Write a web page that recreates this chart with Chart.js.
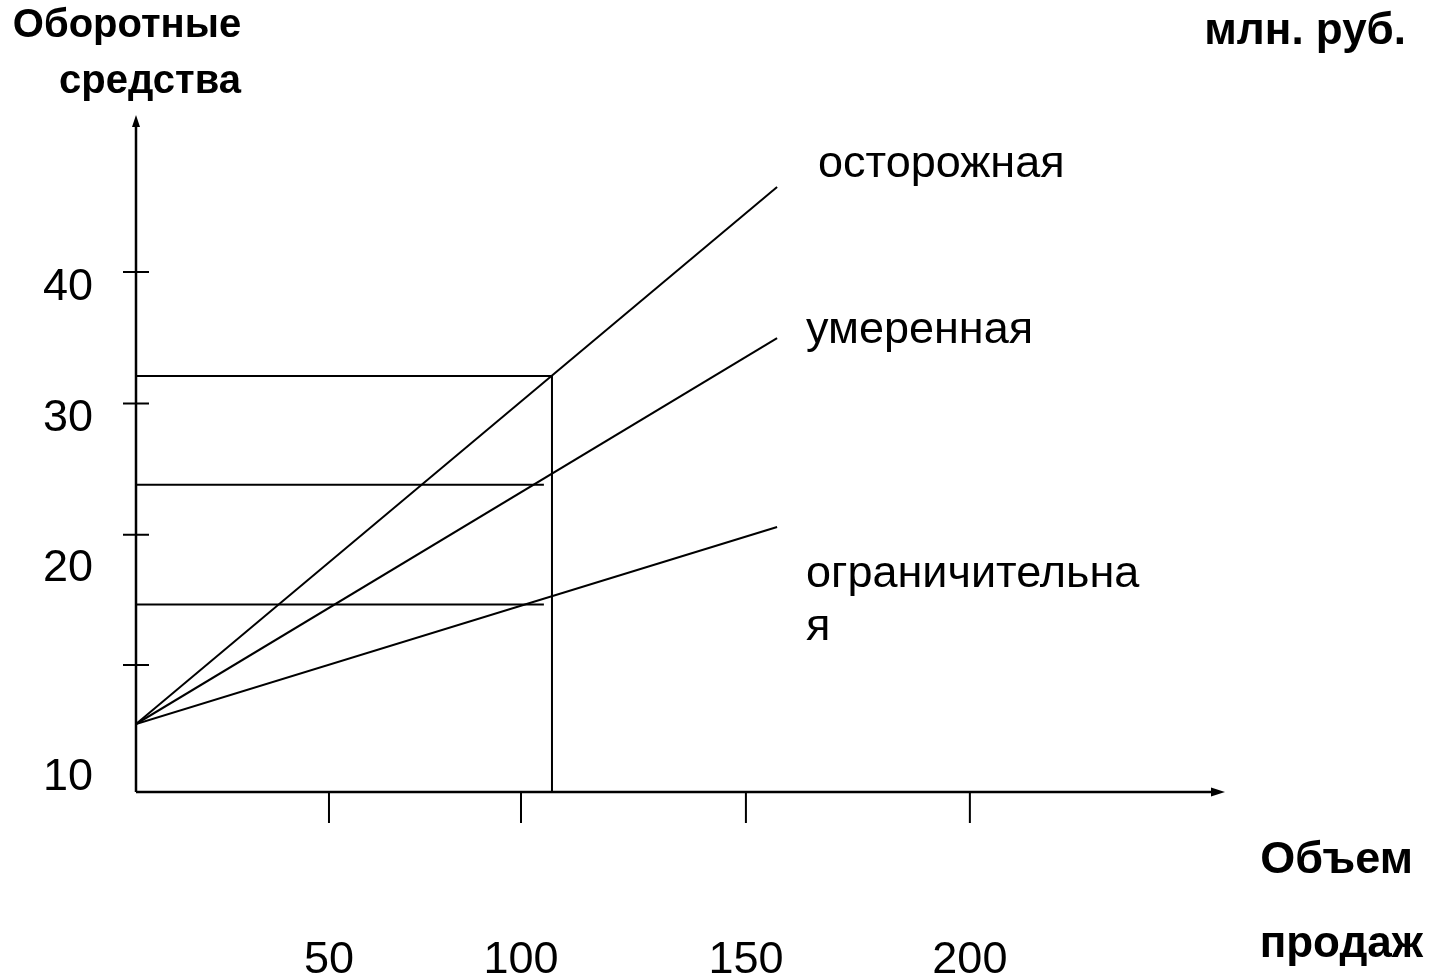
<!DOCTYPE html>
<html lang="ru">
<head>
<meta charset="utf-8">
<title>Оборотные средства и объем продаж</title>
<script src="https://cdn.jsdelivr.net/npm/chart.js@4.4.1/dist/chart.umd.min.js"></script>
<style>
  html, body { margin: 0; padding: 0; background: #fff; }
  #wrap { position: relative; width: 1433px; height: 977px; }
</style>
</head>
<body>
<div id="wrap"><canvas id="chart"></canvas></div>
<script>
// === Data (x: объем продаж, y: оборотные средства) ===
const strategyNames = ["осторожная", "умеренная", "ограничительная"];
const lineStart = { x: 0, y: 5.22 };
const lineEndX = 166.6;
const lineEndY = [46.47, 34.87, 20.35];

// horizontal guide lines and the vertical one at the chosen sales volume
const guideY = [31.95, 23.6, 14.4];
const guideEndX = [108.1, 106.0, 106.0];
const markX = 108.1;

// tick marks and their labels
const xTicks = [50.15, 100.05, 158.5, 216.7];
const xTickLabels = ["50", "100", "150", "200"];
const yTicks = [9.75, 19.75, 29.85, 39.95];
const yTickLabels = ["10", "20", "30", "40"];
// where the y labels sit (they are drawn off their ticks in the original)
const yLabelAt = [0.15, 16.2, 27.7, 37.8];

const X_MAX = 283;
const Y_MAX = 52;

// === Build datasets ===
const black = "#000";
const datasets = [];

strategyNames.forEach((name, i) => {
  datasets.push({
    label: name,
    data: [lineStart, { x: lineEndX, y: lineEndY[i] }],
    borderColor: black,
    borderWidth: 2,
    pointRadius: 0,
    showLine: true,
  });
});

guideY.forEach((y, i) => {
  datasets.push({
    label: "guide" + i,
    data: [{ x: 0, y }, { x: guideEndX[i], y }],
    borderColor: black,
    borderWidth: 2,
    pointRadius: 0,
    showLine: true,
  });
});

datasets.push({
  label: "mark",
  data: [{ x: markX, y: guideY[0] }, { x: markX, y: 0 }],
  borderColor: black,
  borderWidth: 2,
  pointRadius: 0,
  showLine: true,
});

// === Axes, ticks and captions ===
const FONT = "'Liberation Sans', Arial, sans-serif";

const axesPlugin = {
  id: "handAxes",
  afterDraw(chart) {
    const { ctx, chartArea: a, scales } = chart;
    const sx = scales.x, sy = scales.y;
    const ox = sx.getPixelForValue(0), oy = sy.getPixelForValue(0);

    ctx.save();
    ctx.strokeStyle = black;
    ctx.fillStyle = black;
    ctx.lineWidth = 2.5;

    // axis lines
    ctx.beginPath();
    ctx.moveTo(ox, oy);
    ctx.lineTo(ox, a.top + 8);
    ctx.moveTo(ox, oy);
    ctx.lineTo(a.right - 10, oy);
    ctx.stroke();

    // arrow heads
    ctx.beginPath();
    ctx.moveTo(ox, a.top);
    ctx.lineTo(ox - 4, a.top + 12);
    ctx.lineTo(ox + 4, a.top + 12);
    ctx.closePath();
    ctx.fill();
    ctx.beginPath();
    ctx.moveTo(a.right, oy);
    ctx.lineTo(a.right - 14, oy - 4.5);
    ctx.lineTo(a.right - 14, oy + 4.5);
    ctx.closePath();
    ctx.fill();

    // tick marks
    ctx.lineWidth = 2;
    ctx.beginPath();
    yTicks.forEach((v) => {
      const y = sy.getPixelForValue(v);
      ctx.moveTo(ox - 13, y);
      ctx.lineTo(ox + 13, y);
    });
    xTicks.forEach((v) => {
      const x = sx.getPixelForValue(v);
      ctx.moveTo(x, oy);
      ctx.lineTo(x, oy + 31);
    });
    ctx.stroke();

    // tick labels
    ctx.font = "45px " + FONT;
    ctx.textBaseline = "alphabetic";
    ctx.textAlign = "right";
    yTickLabels.forEach((t, i) => {
      ctx.fillText(t, ox - 43, sy.getPixelForValue(yLabelAt[i]));
    });
    ctx.textAlign = "center";
    xTickLabels.forEach((t, i) => {
      ctx.fillText(t, sx.getPixelForValue(xTicks[i]), oy + 181);
    });

    // series captions
    ctx.textAlign = "left";
    ctx.fillText("осторожная", 818, 177);
    ctx.fillText("умеренная", 806, 343);
    ctx.fillText("ограничительна", 806, 587);
    ctx.fillText("я", 806, 640);

    // axis titles
    ctx.font = "bold 40px " + FONT;
    ctx.textAlign = "center";
    ctx.fillText("Оборотные", 127, 37);
    ctx.fillText("средства", 150, 93);
    ctx.textAlign = "right";
    ctx.font = "bold 44px " + FONT;
    ctx.fillText("млн. руб.", 1406, 44);
    ctx.fillText("продаж", 1423, 957);
    ctx.font = "bold 45px " + FONT;
    ctx.fillText("Объем", 1413, 873);
    ctx.restore();
  },
};

new Chart(document.getElementById("chart"), {
  type: "scatter",
  data: { datasets },
  options: {
    responsive: true,
    maintainAspectRatio: false,
    animation: false,
    layout: { padding: { left: 136, right: 208, top: 115, bottom: 185 } },
    plugins: { legend: { display: false }, tooltip: { enabled: false } },
    scales: {
      x: { type: "linear", display: false, min: 0, max: X_MAX },
      y: { type: "linear", display: false, min: 0, max: Y_MAX },
    },
  },
  plugins: [axesPlugin],
});
</script>
</body>
</html>
